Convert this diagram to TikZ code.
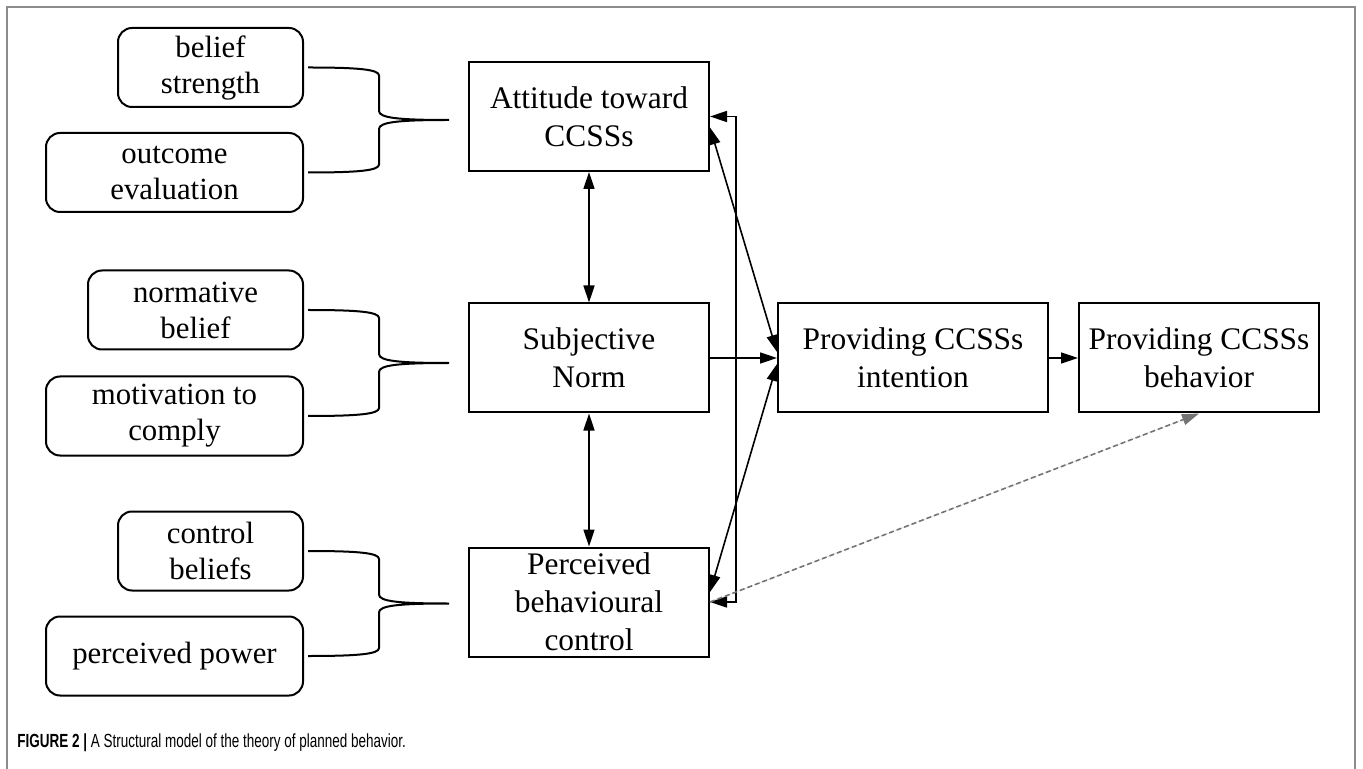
\documentclass[tikz,border=0pt]{standalone}
\usepackage{fontspec}
\setmainfont{Liberation Serif}
\newfontfamily\capfont[FakeStretch=0.71]{Liberation Sans}
\usetikzlibrary{arrows.meta,calc}
\newcommand{\px}{0.5pt}

\begin{document}
\begin{tikzpicture}[x=\px, y=-\px, >={Triangle[length=8.5pt, width=5.5pt]},
    rect/.style={draw, rectangle, line width=1pt, minimum width=240*\px, minimum height=109*\px, inner sep=0pt, align=center, font=\fontsize{15.7}{19}\selectfont},
    belief/.style={draw, rectangle, rounded corners=7pt, line width=1pt, minimum height=79*\px, inner sep=0pt, align=center, font=\fontsize{15.4}{18}\selectfont},
    link/.style={line width=0.8pt, ->},
    twoway/.style={line width=0.8pt, <->},
    brace/.style={line width=1pt},
    figframe/.style={draw=black!45, line width=1pt}]
    \useasboundingbox (0,0) rectangle (1363,769);
    \draw[figframe] (7,769) -- (7,7) -- (1355,7) -- (1355,769);

    % Beliefs
    \node[belief, minimum width=185*\px] (bs) at (210.5,67.5) {belief\\strength};
    \node[belief, minimum width=257*\px] (oe) at (174.5,172.5) {outcome\\evaluation};
    \node[belief, minimum width=215*\px] (nb) at (195.5,310) {normative\\belief};
    \node[belief, minimum width=257*\px] (mc) at (174.5,416) {motivation to\\comply};
    \node[belief, minimum width=185*\px] (cb) at (210.5,551) {control\\beliefs};
    \node[belief, minimum width=257*\px] (pp) at (174.5,656) {perceived power};

    % Constructs
    \node[rect] (att) at (589,116.5) {Attitude toward\\CCSSs};
    \node[rect] (sn) at (589,358) {Subjective\\Norm};
    \node[rect] (pbc) at (589,602) {Perceived\\behavioural\\control};
    \node[rect, minimum width=270*\px] (int) at (913,358) {Providing CCSSs\\intention};
    \node[rect] (beh) at (1199,358) {Providing CCSSs\\behavior};

    % Braces
    \foreach \a/\b in {bs/oe, nb/mc, cb/pp} {
        \coordinate (tip) at ($(\a.east)!0.5!(\b.east) + (145,0)$);
        \draw[brace] ($(\a.east)+(4,0)$) .. controls ($(\a.east)+(55,0)$) and ($(\a.east)+(75,2)$) .. ($(\a.east)+(75,8)$)
            -- ($(tip)+(-70,-9)$) .. controls ($(tip)+(-70,-2)$) and ($(tip)+(-50,0)$) .. (tip)
            .. controls ($(tip)+(-50,0)$) and ($(tip)+(-70,2)$) .. ($(tip)+(-70,9)$)
            -- ($(\b.east)+(75,-8)$) .. controls ($(\b.east)+(75,-2)$) and ($(\b.east)+(55,0)$) .. ($(\b.east)+(4,0)$);
    }

    % Paths
    \draw[twoway] (att.south) -- (sn.north);
    \draw[twoway] (sn.south) -- (pbc.north);
    \draw[link] (sn.east) -- (int.west);
    \draw[link] (int.east) -- (beh.west);
    \draw[twoway] ($(att.east)+(0,11)$) -- ($(int.west)+(0,-6)$);
    \draw[twoway] ($(pbc.east)+(0,-10)$) -- ($(int.west)+(0,6)$);
    \draw[twoway] (att.east) -- ++(26,0) |- (pbc.east);
    \draw[link, draw=black!55, fill=black!55, dash pattern=on 2.5pt off 1.5pt] (pbc.east) -- (beh.south);

    \node[anchor=base west, inner sep=0pt, font=\capfont\fontsize{9.5}{11}\selectfont] (cap) at (17,747) {\textbf{FIGURE 2 |} A Structural model of the theory of planned behavior.};
\end{tikzpicture}
\end{document}
